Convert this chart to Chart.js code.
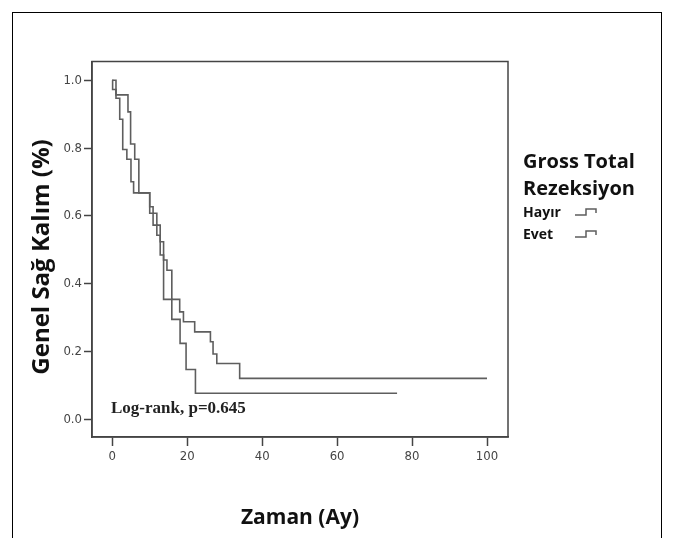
<!DOCTYPE html>
<html>
<head>
<meta charset="utf-8">
<script src="https://cdn.jsdelivr.net/npm/chart.js@4.4.1/dist/chart.umd.min.js"></script>
<style>
  html, body { margin: 0; padding: 0; background: #fff; }
  #wrap { width: 673px; height: 538px; position: relative; }
</style>
</head>
<body>
<div id="wrap"><canvas id="km"></canvas></div>
<script>
// Kaplan-Meier steps (time in months, survival)
const groupNames = ['Hayır', 'Evet'];
const hayirTime = [0, 1.0, 4.2, 4.9, 6.0, 7.1, 10.0, 10.9, 11.9, 12.8, 13.7, 14.6, 15.9, 18.0, 19.0, 22.0, 26.2, 26.9, 27.9, 34.0, 100];
const hayirSurv = [1.0, 0.957, 0.907, 0.812, 0.767, 0.668, 0.627, 0.608, 0.573, 0.524, 0.47, 0.44, 0.354, 0.317, 0.288, 0.258, 0.229, 0.193, 0.165, 0.121, 0.121];
const evetTime = [0, 0.1, 1.0, 2.0, 2.8, 3.9, 5.0, 5.7, 10.0, 10.9, 11.9, 12.8, 13.7, 15.9, 18.1, 19.7, 22.2, 76];
const evetSurv = [1.0, 0.973, 0.947, 0.885, 0.796, 0.767, 0.701, 0.668, 0.608, 0.573, 0.543, 0.485, 0.354, 0.295, 0.224, 0.147, 0.077, 0.077];
const xTicks = [0, 20, 40, 60, 80, 100];
const yTicks = [0.0, 0.2, 0.4, 0.6, 0.8, 1.0];

const toPoints = (t, s) => t.map((v, i) => ({x: v, y: s[i]}));

const lineGray = '#5e5e5e';
const axisGray = '#444';
const tickFont = {family: '"Liberation Sans Narrow", "DejaVu Sans Condensed", Arial', size: 13};

// frame, titles, legend and the log-rank note
const decor = {
    id: 'decor',
    afterDraw(chart) {
        const c = chart.ctx;
        const a = chart.chartArea;
        c.save();

        c.strokeStyle = '#000';
        c.lineWidth = 1;
        c.strokeRect(12.5, 12.5, 649, 560);

        c.strokeStyle = axisGray;
        c.lineWidth = 1.5;
        c.strokeRect(a.left, a.top, a.right - a.left, a.bottom - a.top);

        c.fillStyle = '#111';
        c.font = 'bold 21px "Open Sans"';
        c.textAlign = 'center';
        c.textBaseline = 'middle';
        c.fillText('Zaman (Ay)', (a.left + a.right) / 2, 518);

        c.save();
        c.translate(42, 257);
        c.rotate(-Math.PI / 2);
        c.font = 'bold 24px "Open Sans"';
        c.fillText('Genel Sağ Kalım (%)', 0, 0);
        c.restore();

        c.textAlign = 'left';
        c.textBaseline = 'alphabetic';
        c.font = 'bold 20px "Open Sans"';
        c.fillText('Gross Total', 523, 168);
        c.fillText('Rezeksiyon', 523, 195);

        c.font = 'bold 14px "Open Sans"';
        const rows = [217, 239];
        groupNames.forEach((name, i) => {
            const y = rows[i];
            c.fillStyle = '#111';
            c.fillText(name, 523, y);
            c.strokeStyle = lineGray;
            c.lineWidth = 1.5;
            c.beginPath();
            c.moveTo(575, y - 2);
            c.lineTo(586, y - 2);
            c.lineTo(586, y - 8);
            c.lineTo(596, y - 8);
            c.lineTo(596, y - 4);
            c.stroke();
        });

        c.fillStyle = '#222';
        c.font = 'bold 17px "Liberation Serif"';
        c.fillText('Log-rank, p=0.645', 111, 413);
        c.restore();
    }
};

const ctx = document.getElementById('km');
new Chart(ctx, {
    type: 'line',
    data: {
        datasets: [{
            label: groupNames[0],
            data: toPoints(hayirTime, hayirSurv),
            stepped: 'before',
            borderColor: lineGray,
            borderWidth: 1.6,
            pointRadius: 0,
            fill: false,
        }, {
            label: groupNames[1],
            data: toPoints(evetTime, evetSurv),
            stepped: 'before',
            borderColor: lineGray,
            borderWidth: 1.6,
            pointRadius: 0,
            fill: false,
        }]
    },
    options: {
        responsive: true,
        maintainAspectRatio: false,
        animation: false,
        layout: {
            padding: {left: 0, right: 165, top: 61.5, bottom: 71}
        },
        plugins: {
            legend: {display: false},
            tooltip: {enabled: false}
        },
        scales: {
            x: {
                type: 'linear',
                min: -5.4,
                max: 105.6,
                afterFit: s => { s.height = 30; },
                afterBuildTicks: s => { s.ticks = xTicks.map(v => ({value: v})); },
                grid: {drawOnChartArea: false, drawTicks: true, tickLength: 9, color: axisGray, tickWidth: 1.5},
                border: {display: true, color: axisGray, width: 1.5},
                ticks: {color: axisGray, font: tickFont, padding: 3, maxRotation: 0}
            },
            y: {
                min: -0.052,
                max: 1.0555,
                afterFit: s => { s.width = 92; },
                afterBuildTicks: s => { s.ticks = yTicks.map(v => ({value: v})); },
                grid: {drawOnChartArea: false, drawTicks: true, tickLength: 8, color: axisGray, tickWidth: 1.5},
                border: {display: true, color: axisGray, width: 1.5},
                ticks: {color: axisGray, font: tickFont, padding: 2, callback: v => v.toFixed(1)}
            }
        }
    },
    plugins: [decor]
});
</script>
</body>
</html>
